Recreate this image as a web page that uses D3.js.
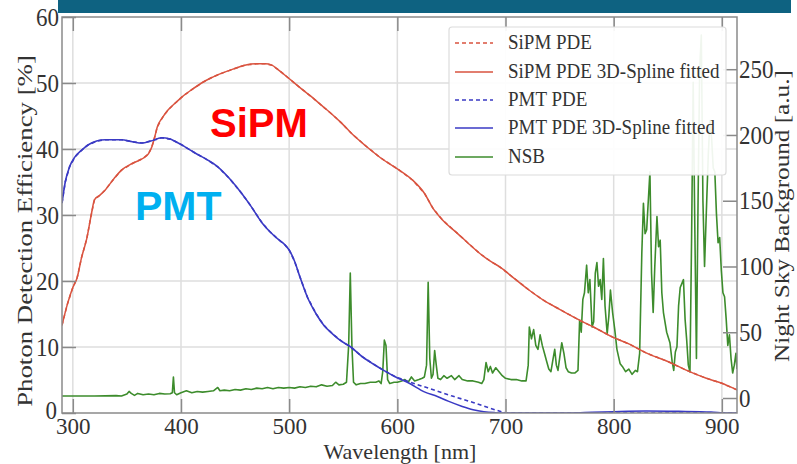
<!DOCTYPE html>
<html>
<head>
<meta charset="utf-8">
<script src="https://cdn.jsdelivr.net/npm/d3@7"></script>
<style>
  html, body { margin: 0; padding: 0; background: #fff; }
  svg { display: block; }
</style>
</head>
<body>
<svg id="chart" width="797" height="464"></svg>
<script>
// ---------- data ----------
const xTicks = [300, 400, 500, 600, 700, 800, 900];
const yLeftTicks = [0, 10, 20, 30, 40, 50, 60];
const yRightTicks = [0, 50, 100, 150, 200, 250];

const sipmWl  = [290,295,300,304,308,313,317,320,325,330,338,345,355,365,370,373,376,378,383,388,395,401,410,419,428,438,448,459,470,478,484,490,499,510,520,530,538,548,558,572,585,600,614,625,633,642,655,665,676,686,695,708,722,735,750,768,784,799,815,830,850,867,885,900,910,914];
const sipmPde = [13.3,16.5,19,20.5,23.5,26.5,30,32.3,33,33.8,35.5,36.8,37.8,38.6,39.3,40.3,42,43.3,44.8,45.9,47,47.9,49,50,50.8,51.5,52.1,52.7,52.9,52.9,52.7,52,50.8,49.3,48,46.6,45.5,44,42.3,40.3,38.6,37,35.3,33.3,31,29.2,27.3,25.8,24.2,23,22.1,20.4,18.6,17.1,15.7,14.1,12.8,11.5,10.4,9.1,7.8,6.5,5.3,4.5,3.8,3.5];

const pmtWl  = [290,293,297,302,308,314,322,330,345,355,364,372,382,390,394,403,413,424,434,445,456,464,475,482,490,496,500,505,510,517,525,532,540,549,557,567,577,587,598,611,625,637,647,660,670,680,690,697,760,780,800,830,860,890,905,914];
const pmtFit = [31.8,35,37.3,38.8,39.8,40.6,41.2,41.4,41.4,41.1,40.9,41.2,41.7,41.5,41.2,40.4,39.4,38.4,37.3,35.5,33.3,31.5,28.8,27.5,26.3,25.5,24.7,23,20.6,17.5,15,13.3,12,10.8,10,8.6,7.5,6.5,5.5,4.5,3.2,2.5,1.8,1.0,0.5,0.2,0.05,0,0,0.1,0.2,0.3,0.25,0.15,0,0];

const pmtRawWl  = [290,293,297,302,308,314,322,330,345,355,364,372,382,390,394,403,413,424,434,445,456,464,475,482,490,496,500,505,510,517,525,532,540,549,557,567,577,587,598,611,630,650,670,690,700,914];
const pmtRaw    = [31.8,35,37.3,38.8,39.8,40.6,41.2,41.4,41.4,41.1,40.9,41.2,41.7,41.5,41.2,40.4,39.4,38.4,37.3,35.5,33.3,31.5,28.8,27.5,26.3,25.5,24.7,23,20.6,17.5,15,13.3,12,10.8,10,8.6,7.5,6.5,5.5,4.7,3.7,2.6,1.6,0.5,0,0];

const nsbWl  = [290,300,320,340,345,350,352,354,357,360,365,370,375,380,385,390,392,393,394,396,400,405,410,415,420,425,430,434,436,440,445,450,455,460,465,470,475,480,485,490,495,500,505,510,515,520,525,530,535,540,543,546,550,553,555,556.5,558,559.5,562,566,570,575,580,583,585,586.5,588,589.5,591,593,597,600,604,607,610,613,616,620,623,625,627,628.5,630,631.5,633,634.5,636,637.5,640,643,646,650,653,657,660,665,670,675,678,680,682,684,686,688,691,694,697,700,705,710,715,719,721,722,724,726,728,730,732,734,736,738,740,742,744,745.5,747,748.5,750,752,754,756,758,761,764,767,768.5,770,771.5,773,775,776.5,778,780,781.5,783,784.5,786,787.5,789,790.5,792,794,795.5,797,799,801,803,806,808,811,814,817,820,822,824,826,827.5,829,830.5,832,833.5,835,836.5,838,840,841.5,843,844.5,846,849,852,854,855.5,857,858.5,860,861.5,863,864.5,866,867.5,869,870.5,872,873.5,875,876.5,878,879.5,881,882.5,884,886,887.5,889,890.5,892,893.5,895,896.5,898,899.5,901,902.5,904,905.5,907,908.5,910,911.5,913,914];
const nsbVal = [1.5,1.5,1.5,1.8,1.5,3,5,3.5,2,3.5,2.5,3,2.5,3.5,3,3.2,4,16,4,2.5,4,5.5,4,5,4.5,5,5.5,8,5.5,6,5.5,6.5,6,7,6.5,7.5,7,8,7,8,7.5,8,7.5,8.5,8,9,8.5,10,9,9.5,12,10,10.5,12,40,95,40,12,10,11,11,12,12,13,11,20,44,40,14,11,12,12,13,14,12,16,13,14,15,16,25,88,30,15,18,36,25,15,14,17,15,17,14,17,14,13,13,12,11,14,27,20,24,19,23,20,17,15,14,14,13,13,25,54,45,52,40,37,48,40,34,28,22,20,30,37,25,21,30,42,34,23,20,19,19,21,59,50,75,80,101,80,90,54,58,95,103,85,90,75,106,70,49,62,82,65,52,37,26,24,20,22,18,21,20,34,110,148,125,128,150,172,95,65,100,138,115,120,80,65,50,42,28,21,35,39,70,84,87,90,60,44,25,20,120,240,130,30,150,250,276,150,100,150,186,211,198,175,172,140,118,122,97,80,77,60,40,48,30,19,25,34,22];

const legendLabels = ["SiPM PDE", "SiPM PDE 3D-Spline fitted", "PMT PDE", "PMT PDE 3D-Spline fitted", "NSB"];

// ---------- layout ----------
const L = 62, R = 737, T = 17, B = 413;
const SERIF = "'Liberation Serif', 'DejaVu Serif', serif";
const SANS = "'Liberation Sans', Arial, sans-serif";
const colRed = "#d9533f", colBlue = "#3a3ac4", colGreen = "#3d8c2c";
const svg = d3.select("#chart");

svg.append("rect").attr("x", 58).attr("y", 0).attr("width", 733).attr("height", 13).attr("fill", "#0e6281");

const x = d3.scaleLinear().domain([290, 914]).range([L, R]);
const yL = d3.scaleLinear().domain([0, 60]).range([B, T]);
const yR = d3.scaleLinear().domain([-11.4, 289.7]).range([B, T]);

// grid
const grid = svg.append("g").attr("stroke", "#dedede").attr("stroke-width", 1.5);
grid.selectAll("line.v").data(xTicks).join("line")
  .attr("x1", d => x(d)).attr("x2", d => x(d)).attr("y1", T).attr("y2", B);
grid.selectAll("line.h").data(yLeftTicks.slice(1, -1)).join("line")
  .attr("y1", d => yL(d)).attr("y2", d => yL(d)).attr("x1", L).attr("x2", R);

// lines
svg.append("clipPath").attr("id", "clip").append("rect")
  .attr("x", L).attr("y", T).attr("width", R - L).attr("height", B - T);
const plot = svg.append("g").attr("clip-path", "url(#clip)");

const mk = (xs, ys, yScale) => d3.line().x((d, i) => x(xs[i])).y((d, i) => yScale(ys[i]))(ys);
const mkSmooth = (xs, ys, yScale) => d3.line().curve(d3.curveMonotoneX).x((d, i) => x(xs[i])).y(d => yScale(d))(ys);

plot.append("path").attr("d", mk(nsbWl, nsbVal, yR)).attr("fill", "none").attr("stroke", colGreen).attr("stroke-width", 1.6).attr("stroke-linejoin", "round");
plot.append("path").attr("d", mk(sipmWl, sipmPde, yL)).attr("fill", "none").attr("stroke", colRed).attr("stroke-width", 1.5).attr("stroke-dasharray", "4,3");
plot.append("path").attr("d", mkSmooth(sipmWl, sipmPde, yL)).attr("fill", "none").attr("stroke", colRed).attr("stroke-width", 1.5);
plot.append("path").attr("d", mk(pmtRawWl, pmtRaw, yL)).attr("fill", "none").attr("stroke", colBlue).attr("stroke-width", 1.6).attr("stroke-dasharray", "4,3");
plot.append("path").attr("d", mkSmooth(pmtWl, pmtFit, yL)).attr("fill", "none").attr("stroke", colBlue).attr("stroke-width", 1.6);

// axes
function styleAxis(g) {
  g.select(".domain").remove();
  g.selectAll(".tick line").attr("stroke", "#8a8a8a").attr("stroke-width", 1.5);
  g.selectAll(".tick text").style("font-family", SERIF).attr("font-size", 23).attr("fill", "#333");
}
// stretch tick labels vertically a little, keeping them anchored at their tick
function stretchLabels(g, sy) {
  g.selectAll(".tick text").each(function () {
    const t = d3.select(this);
    const tx = +t.attr("x") || 0, ty = +t.attr("y") || 0;
    t.attr("transform", `translate(${tx},${ty}) scale(1,${sy})`).attr("x", 0).attr("y", 0);
  });
}
svg.append("g").attr("transform", `translate(0,${B})`)
  .call(d3.axisBottom(x).tickValues(xTicks).tickSize(-14).tickPadding(5).tickFormat(d3.format("d"))).call(styleAxis);
svg.append("g").attr("transform", `translate(0,${T})`)
  .call(d3.axisTop(x).tickValues(xTicks).tickSize(-14).tickFormat("")).call(styleAxis);
const leftAxis = svg.append("g").attr("transform", `translate(${L},0)`)
  .call(d3.axisLeft(yL).tickValues(yLeftTicks).tickSize(-14).tickPadding(3).tickFormat(d3.format("d"))).call(styleAxis);
leftAxis.selectAll(".tick text").filter(d => d === 0).attr("x", -5).attr("dy", "0.2em");
stretchLabels(leftAxis, 1.1);
const rightAxis = svg.append("g").attr("transform", `translate(${R},0)`)
  .call(d3.axisRight(yR).tickValues(yRightTicks).tickSize(-14).tickPadding(2).tickFormat(d3.format("d"))).call(styleAxis);
stretchLabels(rightAxis, 1.1);

// frame
svg.append("rect").attr("x", L).attr("y", T).attr("width", R - L).attr("height", B - T)
  .attr("fill", "none").attr("stroke", "#8a8a8a").attr("stroke-width", 1.5);

// axis titles
svg.append("text").attr("x", 400).attr("y", 459).attr("text-anchor", "middle").style("font-family", SERIF)
  .attr("font-size", 22).attr("fill", "#333").text("Wavelength [nm]");
svg.append("text").attr("transform", "translate(32,231) rotate(-90) scale(1.22,1)").attr("text-anchor", "middle").style("font-family", SERIF)
  .attr("font-size", 22).attr("fill", "#333").text("Photon Detection Efficiency [%]");
svg.append("text").attr("transform", "translate(789,216) rotate(-90) scale(1.2,1)").attr("text-anchor", "middle").style("font-family", SERIF)
  .attr("font-size", 21).attr("fill", "#333").text("Night Sky Background [a.u.]");

// legend
const lg = svg.append("g");
lg.append("rect").attr("x", 449).attr("y", 27).attr("width", 277).attr("height", 148).attr("rx", 3)
  .attr("fill", "#fff").attr("fill-opacity", 0.92).attr("stroke", "#dcdcdc").attr("stroke-width", 1.2);
const legStyles = [
  {c: colRed, dash: "4,3"}, {c: colRed, dash: null}, {c: colBlue, dash: "4,3"}, {c: colBlue, dash: null}, {c: colGreen, dash: null}
];
const legY = [43, 72, 100, 128, 157];
legendLabels.forEach((lab, i) => {
  const ln = lg.append("line").attr("x1", 455).attr("x2", 493).attr("y1", legY[i]).attr("y2", legY[i])
    .attr("stroke", legStyles[i].c).attr("stroke-width", 1.5);
  if (legStyles[i].dash) ln.attr("stroke-dasharray", legStyles[i].dash);
  lg.append("text").attr("transform", `translate(508,${legY[i] + 6}) scale(1,1.12)`).style("font-family", SERIF)
    .attr("font-size", 19).attr("fill", "#333").text(lab);
});

// annotations
svg.append("text").attr("x", 210).attr("y", 137).style("font-family", SANS)
  .attr("font-weight", "bold").attr("font-size", 40).attr("fill", "#ff0000").text("SiPM");
svg.append("text").attr("x", 135).attr("y", 220).style("font-family", SANS)
  .attr("font-weight", "bold").attr("font-size", 41).attr("fill", "#00b0f0").text("PMT");
</script>
</body>
</html>
